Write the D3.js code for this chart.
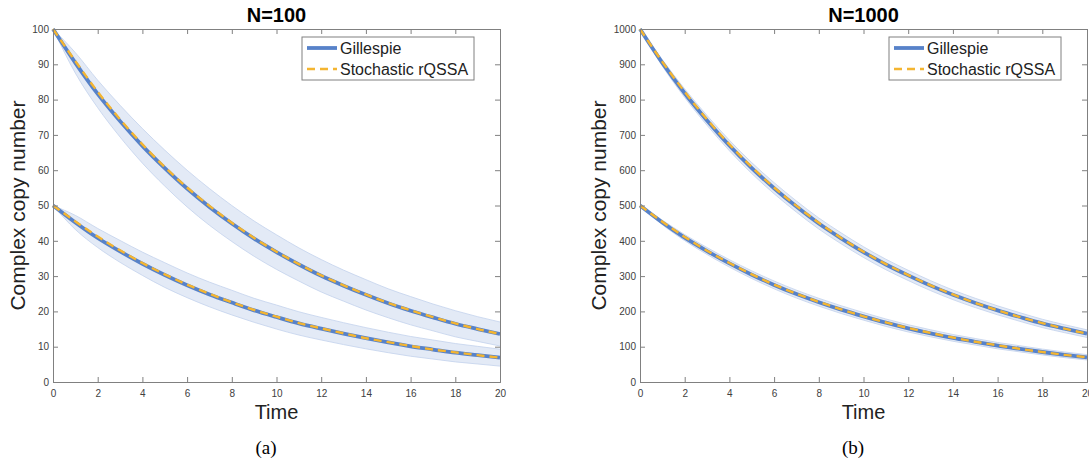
<!DOCTYPE html>
<html>
<head>
<meta charset="utf-8">
<script src="https://cdn.jsdelivr.net/npm/d3@7"></script>
<style>
  body { margin: 0; background: #fff; }
  svg { display: block; font-family: "Liberation Sans", Arial, sans-serif; }
</style>
</head>
<body>
<svg id="chart" width="1089" height="467"></svg>
<script>
// time grid (same for both panels)
const times = [0, 1, 2, 3, 4, 5, 6, 7, 8, 9, 10, 11, 12, 13, 14, 15, 16, 17, 18, 19, 20];

// N=100, start at 100
const gil100hi = [100, 90.4, 81.6, 73.9, 66.9, 60.6, 54.8, 49.6, 44.9, 40.6, 36.8, 33.3, 30.1, 27.3, 24.7, 22.3, 20.2, 18.3, 16.5, 15.0, 13.6];
const rq100hi  = [100, 90.9, 82.2, 74.4, 67.3, 60.9, 55.1, 49.9, 45.1, 40.8, 36.9, 33.4, 30.2, 27.4, 24.8, 22.4, 20.3, 18.4, 16.6, 15.0, 13.6];
const sd100hi  = [0, 2.9, 3.9, 4.5, 4.9, 5.1, 5.2, 5.2, 5.1, 5.0, 4.9, 4.7, 4.6, 4.4, 4.3, 4.1, 4.0, 3.8, 3.7, 3.5, 3.4];
// N=100, start at 50
const gil100lo = [50, 45.2, 40.8, 37.0, 33.5, 30.3, 27.4, 24.8, 22.5, 20.3, 18.4, 16.6, 15.1, 13.7, 12.4, 11.2, 10.1, 9.2, 8.3, 7.6, 6.9];
const rq100lo  = [50, 45.5, 41.2, 37.3, 33.7, 30.5, 27.6, 25.0, 22.6, 20.4, 18.5, 16.7, 15.2, 13.8, 12.4, 11.3, 10.2, 9.2, 8.4, 7.6, 6.9];
const sd100lo  = [0, 2.0, 2.7, 3.1, 3.3, 3.5, 3.5, 3.5, 3.5, 3.4, 3.4, 3.3, 3.2, 3.1, 3.0, 2.9, 2.8, 2.7, 2.6, 2.5, 2.4];

// N=1000
const gil1000hi = [1000, 904, 818, 741, 670, 606, 549, 497, 449, 407, 368, 333, 302, 273, 247, 224, 203, 184, 166, 151, 137];
const rq1000hi  = [1000, 907, 822, 744, 673, 609, 551, 499, 451, 408, 369, 334, 303, 274, 248, 224, 203, 184, 167, 151, 137];
const sd1000hi  = [0, 9.0, 12.1, 13.9, 14.9, 15.5, 15.8, 15.8, 15.7, 15.5, 15.2, 14.9, 14.5, 14.1, 13.6, 13.2, 12.7, 12.2, 11.8, 11.3, 10.8];
const gil1000lo = [500, 452, 409, 371, 336, 304, 275, 249, 226, 205, 186, 168, 152, 138, 125, 114, 103, 94, 85, 77, 70];
const rq1000lo  = [500, 454, 411, 372, 337, 305, 276, 250, 227, 206, 186, 169, 153, 139, 126, 114, 104, 94, 85, 77, 70];
const sd1000lo  = [0, 6.5, 8.6, 9.8, 10.5, 10.9, 11.1, 11.2, 11.1, 11.0, 10.8, 10.5, 10.3, 10.0, 9.6, 9.3, 9.0, 8.7, 8.3, 8.0, 7.6];

const xTicks = [0, 2, 4, 6, 8, 10, 12, 14, 16, 18, 20];
const yTicks100 = [0, 10, 20, 30, 40, 50, 60, 70, 80, 90, 100];
const yTicks1000 = [0, 100, 200, 300, 400, 500, 600, 700, 800, 900, 1000];
const legendLabels = ["Gillespie", "Stochastic rQSSA"];

const blue = "#5782c9";
const orange = "#f4b531";
const bandFill = "#e3eaf6";
const bandEdge = "#c3d2ec";
const axisColor = "#808080";

const svg = d3.select("#chart");

function drawPanel(opts) {
  const { left, right, top, bottom, yMax, yTicks, title, caption, series } = opts;
  const x = d3.scaleLinear().domain([0, 20]).range([left, right]);
  const y = d3.scaleLinear().domain([0, yMax]).range([bottom, top]);
  const g = svg.append("g");

  // bands
  series.forEach(s => {
    const rows = times.map((t, i) => ({ t: t, m: s.gil[i], sd: s.sd[i] }));
    g.append("path")
      .datum(rows)
      .attr("fill", bandFill)
      .attr("stroke", "none")
      .attr("d", d3.area().curve(d3.curveMonotoneX)
        .x(d => x(d.t)).y0(d => y(d.m - d.sd)).y1(d => y(d.m + d.sd)));
    [1, -1].forEach(sign => {
      g.append("path")
        .datum(rows)
        .attr("fill", "none")
        .attr("stroke", bandEdge)
        .attr("stroke-width", 0.8)
        .attr("d", d3.line().curve(d3.curveMonotoneX)
          .x(d => x(d.t)).y(d => y(d.m + sign * d.sd)));
    });
  });

  // mean lines
  series.forEach(s => {
    g.append("path")
      .datum(times.map((t, i) => [t, s.gil[i]]))
      .attr("fill", "none")
      .attr("stroke", blue)
      .attr("stroke-width", 3.8)
      .attr("d", d3.line().curve(d3.curveMonotoneX).x(d => x(d[0])).y(d => y(d[1])));
  });
  series.forEach(s => {
    g.append("path")
      .datum(times.map((t, i) => [t, s.rq[i]]))
      .attr("fill", "none")
      .attr("stroke", orange)
      .attr("stroke-width", 2.4)
      .attr("stroke-dasharray", "8,5")
      .attr("d", d3.line().curve(d3.curveMonotoneX).x(d => x(d[0])).y(d => y(d[1])));
  });

  // axes (box with inward ticks)
  const axB = g.append("g").attr("transform", `translate(0,${bottom})`)
    .call(d3.axisBottom(x).tickValues(xTicks).tickSize(-5).tickPadding(8));
  const axT = g.append("g").attr("transform", `translate(0,${top})`)
    .call(d3.axisTop(x).tickValues(xTicks).tickSize(-5).tickFormat(""));
  const axL = g.append("g").attr("transform", `translate(${left},0)`)
    .call(d3.axisLeft(y).tickValues(yTicks).tickSize(-5).tickPadding(4).tickFormat(d3.format("d")));
  const axR = g.append("g").attr("transform", `translate(${right},0)`)
    .call(d3.axisRight(y).tickValues(yTicks).tickSize(-5).tickFormat(""));
  [axB, axT, axL, axR].forEach(a => {
    a.select(".domain").attr("stroke", axisColor).attr("stroke-width", 1);
    a.selectAll(".tick line").attr("stroke", axisColor);
    a.selectAll(".tick text").attr("fill", "#404040")
      .style("font-family", "Liberation Sans, Arial, sans-serif").style("font-size", "10px");
  });

  const cx = (left + right) / 2;
  g.append("text").attr("x", cx).attr("y", 22).attr("text-anchor", "middle")
    .style("font-size", "20px").style("font-weight", "bold").text(title);
  g.append("text").attr("x", cx).attr("y", 419).attr("text-anchor", "middle")
    .style("font-size", "20px").attr("fill", "#222").text("Time");
  g.append("text")
    .attr("transform", `translate(${left - opts.yLabOff},${(top + bottom) / 2}) rotate(-90)`)
    .attr("text-anchor", "middle").style("font-size", "21px").attr("fill", "#222")
    .text("Complex copy number");
  g.append("text").attr("x", cx - 10.5).attr("y", 454).attr("text-anchor", "middle")
    .style("font-family", "Liberation Serif, Times New Roman, serif").style("font-size", "19px")
    .text(caption);

  // legend
  const lg = g.append("g").attr("transform", `translate(${right - 198},37)`);
  lg.append("rect").attr("width", 172).attr("height", 43)
    .attr("fill", "#fff").attr("stroke", axisColor).attr("stroke-width", 1);
  legendLabels.forEach((lab, i) => {
    const ly = 11 + i * 21;
    lg.append("line").attr("x1", 5).attr("x2", 35).attr("y1", ly).attr("y2", ly)
      .attr("stroke", i === 0 ? blue : orange)
      .attr("stroke-width", i === 0 ? 3.8 : 2.4)
      .attr("stroke-dasharray", i === 0 ? null : "8,5");
    lg.append("text").attr("x", 38).attr("y", ly + 6)
      .style("font-size", "16px").attr("fill", "#222").text(lab);
  });
}

drawPanel({
  left: 53, right: 500, top: 29, bottom: 382, yMax: 100, yTicks: yTicks100,
  title: "N=100", caption: "(a)", yLabOff: 28,
  series: [
    { gil: gil100hi, rq: rq100hi, sd: sd100hi },
    { gil: gil100lo, rq: rq100lo, sd: sd100lo }
  ]
});
drawPanel({
  left: 640, right: 1087, top: 29, bottom: 382, yMax: 1000, yTicks: yTicks1000,
  title: "N=1000", caption: "(b)", yLabOff: 34,
  series: [
    { gil: gil1000hi, rq: rq1000hi, sd: sd1000hi },
    { gil: gil1000lo, rq: rq1000lo, sd: sd1000lo }
  ]
});
</script>
</body>
</html>
